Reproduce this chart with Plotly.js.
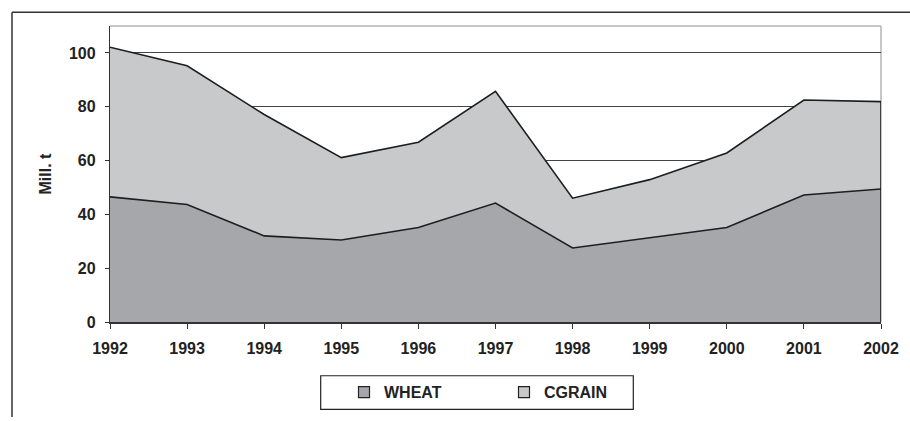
<!DOCTYPE html>
<html>
<head>
<meta charset="utf-8">
<script src="https://cdn.plot.ly/plotly-3.0.1.min.js"></script>
<style>
  html, body { margin: 0; padding: 0; background: #fff; }
  #chart { width: 910px; height: 421px; }
</style>
</head>
<body>
<div id="chart"></div>
<script>
// ---- data ----
const years  = [1992, 1993, 1994, 1995, 1996, 1997, 1998, 1999, 2000, 2001, 2002];
const wheat  = [46.5, 43.7, 32.0, 30.5, 35.1, 44.2, 27.5, 31.3, 35.1, 47.2, 49.4];
const total  = [102.1, 95.2, 77.1, 61.1, 66.8, 85.7, 46.0, 52.9, 62.8, 82.5, 81.9];
const cgrain = total.map((t, i) => +(t - wheat[i]).toFixed(1));
const seriesNames = ['WHEAT', 'CGRAIN'];
const yTicks = [0, 20, 40, 60, 80, 100];

const wheatFill = '#a6a7ab';
const cgrainFill = '#c8c9cb';
const lineCol = '#1e1e1e';
const font = 'Liberation Sans, Arial, sans-serif';

const traces = [
  { x: years, y: wheat, name: seriesNames[0], type: 'scatter', mode: 'lines',
    stackgroup: 'one', fillcolor: wheatFill, line: { color: lineCol, width: 1.6 },
    showlegend: false, hoverinfo: 'x+y' },
  { x: years, y: cgrain, name: seriesNames[1], type: 'scatter', mode: 'lines',
    stackgroup: 'one', fillcolor: cgrainFill, line: { color: lineCol, width: 1.6 },
    showlegend: false, hoverinfo: 'x+y' },
  // legend entries (square swatches)
  { x: [null], y: [null], name: seriesNames[0], type: 'scatter', mode: 'markers',
    marker: { symbol: 'square', size: 11, color: wheatFill, line: { color: '#222', width: 1.2 } } },
  { x: [null], y: [null], name: seriesNames[1], type: 'scatter', mode: 'markers',
    marker: { symbol: 'square', size: 11, color: cgrainFill, line: { color: '#222', width: 1.2 } } }
];

const W = 910, H = 421;
const mL = 110, mR = 29, mT = 26, mB = 96;
const pw = W - mL - mR, ph = H - mT - mB;
const px = v => (v - mL) / pw;          // pixel -> paper x
const py = v => (H - mB - v) / ph;      // pixel -> paper y

const layout = {
  width: W, height: H,
  margin: { l: mL, r: mR, t: mT, b: mB },
  paper_bgcolor: '#ffffff',
  plot_bgcolor: '#ffffff',
  font: { family: font, size: 16, color: '#222' },
  showlegend: true,
  legend: {
    orientation: 'h',
    traceorder: 'normal',
    x: px(344), xanchor: 'left',
    y: py(396), yanchor: 'middle',
    bgcolor: 'rgba(0,0,0,0)',
    borderwidth: 0,
    entrywidth: 115, entrywidthmode: 'pixels',
    font: { family: font, size: 16, color: '#222', weight: 'bold' },
    itemclick: false, itemdoubleclick: false
  },
  xaxis: {
    range: [years[0], years[years.length - 1]],
    tickvals: years,
    ticktext: years.map(String),
    showgrid: false,
    zeroline: false,
    showline: true, linecolor: '#333', linewidth: 1.8,
    ticks: 'outside', ticklen: 5, tickwidth: 1, tickcolor: '#333',
    ticklabelstandoff: 6,
    tickfont: { family: font, size: 16, color: '#222', weight: 'bold' },
    fixedrange: true
  },
  yaxis: {
    range: [0, 110],
    tickvals: yTicks,
    showgrid: true, gridcolor: '#444', gridwidth: 1,
    zeroline: false,
    showline: true, linecolor: '#333', linewidth: 1.3,
    ticks: 'outside', ticklen: 4, tickwidth: 1, tickcolor: '#333',
    ticklabelstandoff: 6,
    tickfont: { family: font, size: 16, color: '#222', weight: 'bold' },
    title: { text: 'Mill. t', standoff: 13,
             font: { family: font, size: 16, color: '#222', weight: 'bold' } },
    fixedrange: true
  },
  shapes: [
    // plot-area light border (top & right)
    { type: 'line', xref: 'paper', yref: 'paper', x0: 0, x1: 1, y0: 1, y1: 1,
      line: { color: '#b4b4b4', width: 1.5 }, layer: 'below' },
    { type: 'line', xref: 'paper', yref: 'paper', x0: 1, x1: 1, y0: 0, y1: 1,
      line: { color: '#b4b4b4', width: 1.5 }, layer: 'below' },
    // dark outline on right edge of the stacked area
    { type: 'line', xref: 'x', yref: 'y',
      x0: years[years.length - 1], x1: years[years.length - 1],
      y0: 0, y1: total[total.length - 1],
      line: { color: lineCol, width: 1.6 } },
    // outer chart frame (top and left)
    { type: 'line', xref: 'paper', yref: 'paper', x0: px(12), x1: px(910), y0: py(12), y1: py(12),
      line: { color: '#333', width: 1.5 } },
    { type: 'line', xref: 'paper', yref: 'paper', x0: px(12), x1: px(12), y0: py(12), y1: py(421),
      line: { color: '#333', width: 1.5 } },
    // legend box
    { type: 'rect', xref: 'paper', yref: 'paper', x0: px(320.7), x1: px(633.3), y0: py(379.3), y1: py(413.3),
      line: { color: '#222', width: 1.2 }, fillcolor: 'rgba(0,0,0,0)' }
  ]
};

Plotly.newPlot('chart', traces, layout, { displayModeBar: false, staticPlot: false });
</script>
</body>
</html>
